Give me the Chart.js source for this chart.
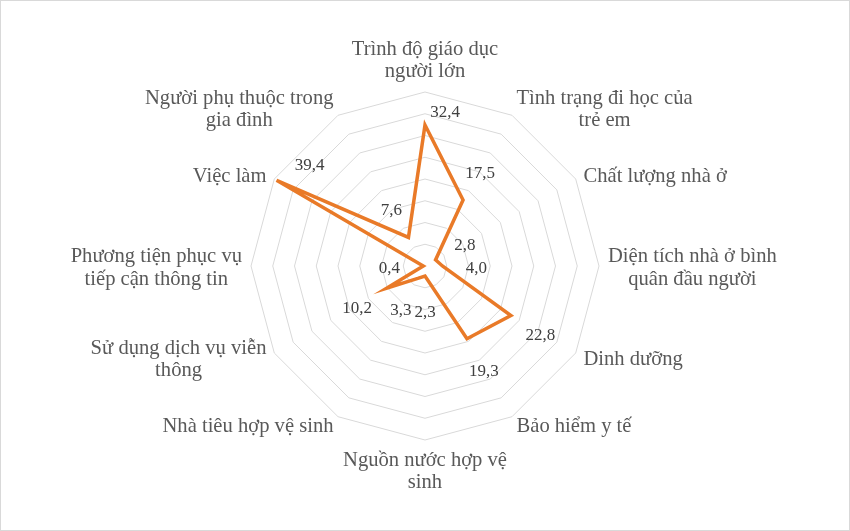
<!DOCTYPE html>
<html>
<head>
<meta charset="utf-8">
<script src="https://cdn.jsdelivr.net/npm/chart.js@4.4.1/dist/chart.umd.min.js"></script>
<style>
  html, body { margin: 0; padding: 0; background: #fff; }
  #wrap {
    width: 850px; height: 531px; box-sizing: border-box;
    border: 1px solid #d9d9d9; background: #fff;
  }
  canvas { display: block; }
</style>
</head>
<body>
<div id="wrap"><canvas id="radarChart" width="848" height="529"></canvas></div>
<script>
// categories, clockwise from the top
const categories = [
  ['Trình độ giáo dục', 'người lớn'],
  ['Tình trạng đi học của', 'trẻ em'],
  ['Chất lượng nhà ở'],
  ['Diện tích nhà ở bình', 'quân đầu người'],
  ['Dinh dưỡng'],
  ['Bảo hiểm y tế'],
  ['Nguồn nước hợp vệ', 'sinh'],
  ['Nhà tiêu hợp vệ sinh'],
  ['Sử dụng dịch vụ viễn', 'thông'],
  ['Phương tiện phục vụ', 'tiếp cận thông tin'],
  ['Việc làm'],
  ['Người phụ thuộc trong', 'gia đình']
];
const values = [32.4, 17.5, 2.8, 4.0, 22.8, 19.3, 2.3, 3.3, 10.2, 0.4, 39.4, 7.6];
const axisMax = 40;
const axisStep = 5;

const labelFont = '20.6px "Liberation Serif", "Times New Roman", serif';
const valueFont = '17px "Liberation Serif", "Times New Roman", serif';

// category labels drawn like Excel: lines centred inside their block
const categoryLabels = {
  id: 'categoryLabels',
  afterDraw(chart) {
    const scale = chart.scales.r;
    const ctx = chart.ctx;
    const lineH = 22.5;
    ctx.save();
    ctx.font = labelFont;
    ctx.fillStyle = '#595959';
    ctx.textAlign = 'center';
    ctx.textBaseline = 'middle';
    categories.forEach((lines, i) => {
      const deg = i * 360 / categories.length;
      const p = scale.getPointPosition(i, scale.drawingArea + 9);
      const blockW = Math.max(...lines.map(l => ctx.measureText(l).width));
      const blockH = lines.length * lineH;
      let cx = p.x, top;
      if (deg === 0) {
        top = p.y - blockH;
      } else if (deg === 180) {
        top = p.y;
      } else {
        cx = deg < 180 ? p.x + blockW / 2 : p.x - blockW / 2;
        top = p.y - blockH / 2 + 2;
      }
      lines.forEach((l, k) => ctx.fillText(l, cx, top + lineH * k + lineH / 2));
    });
    ctx.restore();
  }
};

// value labels pushed outward along each axis
const valueLabels = {
  id: 'valueLabels',
  afterDatasetsDraw(chart) {
    const scale = chart.scales.r;
    const ctx = chart.ctx;
    const moved = { 0: [20, -13], 10: [33, -15] };
    ctx.save();
    ctx.font = valueFont;
    ctx.fillStyle = '#404040';
    ctx.textAlign = 'center';
    ctx.textBaseline = 'middle';
    values.forEach((v, i) => {
      const d = scale.getDistanceFromCenterForValue(v);
      let p;
      if (moved[i]) {
        const q = scale.getPointPosition(i, d);
        p = { x: q.x + moved[i][0], y: q.y + moved[i][1] };
      } else {
        p = scale.getPointPosition(i, d + 34);
        p.y += 3;
      }
      ctx.fillText(v.toFixed(1).replace('.', ','), p.x, p.y);
    });
    ctx.restore();
  }
};

new Chart(document.getElementById('radarChart'), {
  type: 'radar',
  data: {
    labels: categories,
    datasets: [{
      data: values,
      borderColor: '#E97A28',
      borderWidth: 3.5,
      borderJoinStyle: 'miter',
      fill: false,
      pointRadius: 0,
      pointHoverRadius: 0,
      tension: 0
    }]
  },
  options: {
    responsive: false,
    animation: false,
    layout: { padding: { top: 91, bottom: 90, left: 0, right: 0 } },
    plugins: {
      legend: { display: false },
      tooltip: { enabled: false }
    },
    scales: {
      r: {
        min: 0,
        max: axisMax,
        ticks: { display: false, stepSize: axisStep },
        grid: { color: '#d9d9d9', lineWidth: 1 },
        angleLines: { display: false },
        pointLabels: { display: false }
      }
    }
  },
  plugins: [categoryLabels, valueLabels]
});
</script>
</body>
</html>
